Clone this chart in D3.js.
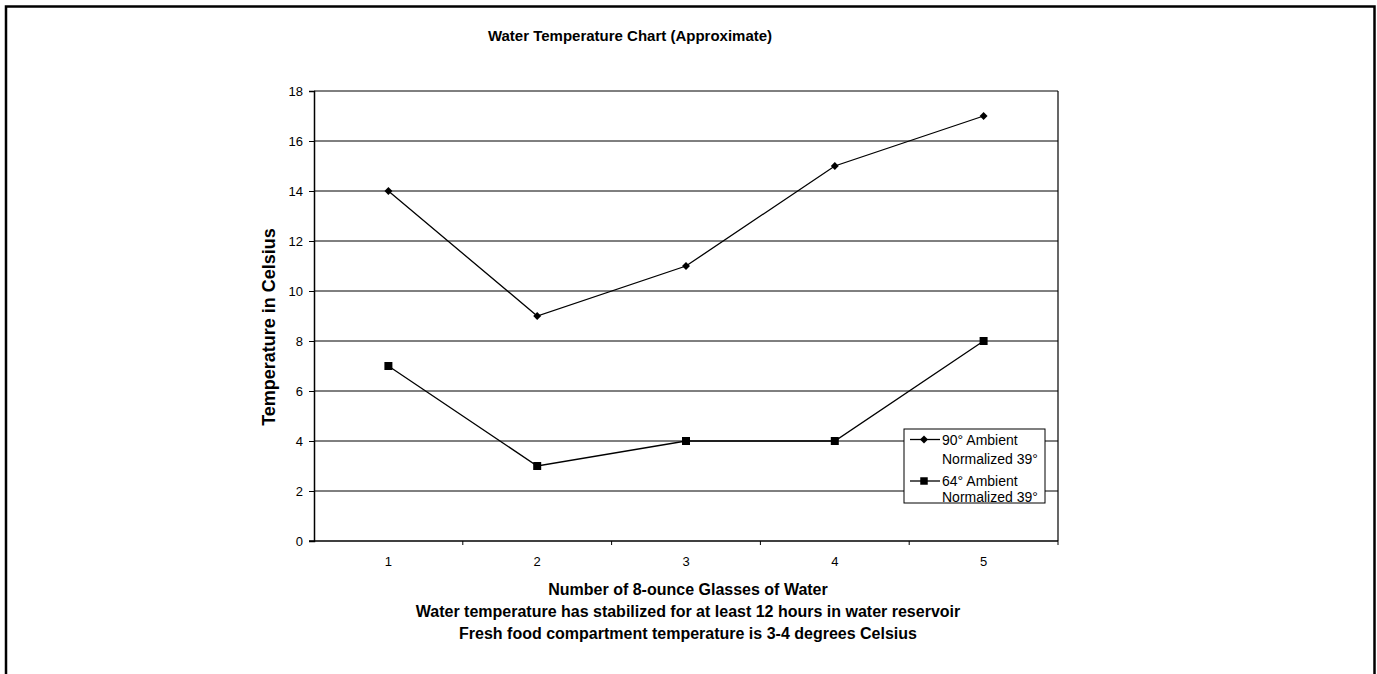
<!DOCTYPE html>
<html>
<head>
<meta charset="utf-8">
<script src="https://cdn.jsdelivr.net/npm/d3@7"></script>
<style>
  html, body { margin: 0; padding: 0; background: #fff; }
  svg { display: block; font-family: "Liberation Sans", Arial, sans-serif; }
</style>
</head>
<body>
<svg id="chart" width="1377" height="674"></svg>
<script>
// Glass count along the x axis
const glasses = ["1", "2", "3", "4", "5"];
// Water temperature (°C) for each glass drawn
const ambient90 = [14, 9, 11, 15, 17];
const ambient64 = [7, 3, 4, 4, 8];
const yTicks = [0, 2, 4, 6, 8, 10, 12, 14, 16, 18];
const seriesNames = [["90° Ambient", "Normalized 39°"], ["64° Ambient", "Normalized 39°"]];

const svg = d3.select("#chart");
const W = 1377, H = 674;
const plot = { left: 314, right: 1058, top: 91, bottom: 541 };

// Outer frame (open at the bottom)
svg.append("path")
  .attr("d", `M6,${H} V6.5 H1374.5 V${H}`)
  .attr("fill", "none").attr("stroke", "#000").attr("stroke-width", 2.5);

const x = d3.scaleBand().domain(glasses).range([plot.left, plot.right]);
const y = d3.scaleLinear().domain([0, 18]).range([plot.bottom, plot.top]);

// Horizontal gridlines
svg.append("g").selectAll("line").data(yTicks.filter(d => d > 0)).join("line")
  .attr("x1", plot.left).attr("x2", plot.right)
  .attr("y1", d => y(d)).attr("y2", d => y(d))
  .attr("stroke", "#000").attr("stroke-width", 1);

// Plot border right
svg.append("line").attr("x1", plot.right).attr("x2", plot.right)
  .attr("y1", plot.top).attr("y2", plot.bottom).attr("stroke", "#000").attr("stroke-width", 1.2);

// Y axis
const yAxis = svg.append("g").attr("transform", `translate(${plot.left},0)`)
  .call(d3.axisLeft(y).tickValues(yTicks).tickSize(5).tickPadding(6));
yAxis.select(".domain").attr("stroke", "#000").attr("stroke-width", 1.5);
yAxis.selectAll(".tick line").attr("stroke", "#000");
yAxis.selectAll("text").attr("font-size", 13).attr("font-family", "Liberation Sans, Arial, sans-serif").attr("fill", "#000");

// X axis: ticks at category boundaries, labels at centers
const xAxis = svg.append("g").attr("transform", `translate(0,${plot.bottom})`);
xAxis.append("line").attr("x1", plot.left - 5).attr("x2", plot.right)
  .attr("stroke", "#000").attr("stroke-width", 1.5);
xAxis.selectAll("line.tk").data(glasses.slice(1)).join("line").attr("class", "tk")
  .attr("x1", d => x(d)).attr("x2", d => x(d)).attr("y1", 0).attr("y2", 4)
  .attr("stroke", "#000");
xAxis.append("line").attr("x1", plot.right).attr("x2", plot.right).attr("y1", 0).attr("y2", 4).attr("stroke", "#000");
xAxis.selectAll("text").data(glasses).join("text")
  .attr("x", d => x(d) + x.bandwidth() / 2).attr("y", 25)
  .attr("text-anchor", "middle").attr("font-size", 13).text(d => d);

// Lines and markers
const line = d3.line().x((d, i) => x(glasses[i]) + x.bandwidth() / 2).y(d => y(d));
[ambient90, ambient64].forEach((vals, s) => {
  svg.append("path").datum(vals).attr("d", line)
    .attr("fill", "none").attr("stroke", "#000").attr("stroke-width", 1.3);
  const sym = d3.symbol().type(s === 0 ? d3.symbolDiamond2 : d3.symbolSquare).size(s === 0 ? 40 : 64);
  svg.append("g").selectAll("path").data(vals).join("path")
    .attr("transform", (d, i) => `translate(${x(glasses[i]) + x.bandwidth() / 2},${y(d)})`)
    .attr("d", sym).attr("fill", "#000");
});

// Title
svg.append("text").attr("x", 630).attr("y", 41).attr("text-anchor", "middle")
  .attr("font-size", 15).attr("font-weight", "bold").text("Water Temperature Chart (Approximate)");

// Y axis title
svg.append("text").attr("transform", `translate(275,327) rotate(-90)`)
  .attr("text-anchor", "middle").attr("font-size", 18).attr("font-weight", "bold")
  .text("Temperature in Celsius");

// X axis titles
["Number of 8-ounce Glasses of Water",
 "Water temperature has stabilized for at least 12 hours in water reservoir",
 "Fresh food compartment temperature is 3-4 degrees Celsius"].forEach((t, i) => {
  svg.append("text").attr("x", 688).attr("y", 595 + i * 22).attr("text-anchor", "middle")
    .attr("font-size", 16).attr("font-weight", "bold").text(t);
});

// Legend
const lg = svg.append("g").attr("transform", "translate(904,429)");
lg.append("rect").attr("width", 141).attr("height", 74)
  .attr("fill", "#fff").attr("stroke", "#000").attr("stroke-width", 1);
const legendRows = [
  { marker: 10.5, text: [16, 35] },
  { marker: 52, text: [56.5, 73] }
];
seriesNames.forEach((lines, s) => {
  const cy = legendRows[s].marker;
  lg.append("line").attr("x1", 6).attr("x2", 36).attr("y1", cy).attr("y2", cy)
    .attr("stroke", "#000").attr("stroke-width", 1.3);
  const sym = d3.symbol().type(s === 0 ? d3.symbolDiamond2 : d3.symbolSquare).size(s === 0 ? 40 : 56);
  lg.append("path").attr("transform", `translate(20,${cy})`).attr("d", sym).attr("fill", "#000");
  lines.forEach((t, k) => {
    lg.append("text").attr("x", 38).attr("y", legendRows[s].text[k])
      .attr("font-size", 14).text(t);
  });
});
</script>
</body>
</html>
